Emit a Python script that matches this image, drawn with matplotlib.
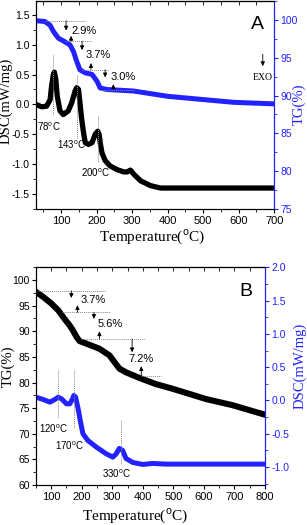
import numpy as np
import matplotlib
matplotlib.use("Agg")
import matplotlib.pyplot as plt
from matplotlib.ticker import MultipleLocator

plt.rcParams['font.family'] = ['Liberation Sans', 'DejaVu Sans']
plt.rcParams['mathtext.fontset'] = 'custom'
plt.rcParams['mathtext.rm'] = 'Liberation Sans'
plt.rcParams['axes.unicode_minus'] = False

BLUE = '#2222ff'

# --- panel A: DSC (left, black) and TG (right, blue)
a_dsc_T = [29, 45, 59, 69, 73, 78, 81, 85, 89, 97, 106, 120, 130, 139, 144, 149, 153, 158, 163,
           168, 177, 187, 196, 203, 207, 210, 215, 224, 238, 257, 276, 286, 295, 305, 324, 352,
           380, 399, 700]
a_dsc = [0.0, -0.04, -0.03, 0.08, 0.30, 0.50, 0.54, 0.42, 0.14, -0.11, -0.17, -0.11, 0.03, 0.22,
         0.28, 0.25, 0.03, -0.25, -0.47, -0.64, -0.67, -0.64, -0.50, -0.45, -0.50, -0.64, -0.81,
         -0.94, -1.03, -1.09, -1.13, -1.13, -1.10, -1.17, -1.28, -1.36, -1.40, -1.40, -1.40]
a_tg_T = [29, 54, 69, 78, 92, 111, 125, 135, 144, 153, 168, 187, 201, 210, 229, 304, 400, 493, 587, 700]
a_tg = [99.9, 99.8, 99.3, 98.5, 97.6, 97.1, 96.7, 95.8, 94.5, 93.4, 93.0, 92.8, 91.9, 91.0, 90.8,
        90.6, 89.9, 89.5, 89.1, 88.9]
a_steps = ['2.9%', '3.7%', '3.0%']
a_peaks = ['78$^\\mathrm{o}$C', '143$^\\mathrm{o}$C', '200$^\\mathrm{o}$C']

# --- panel B: TG (left, black) and DSC (right, blue)
b_tg_T = [50, 74, 101, 123, 144, 161, 171, 183, 193, 215, 258, 291, 307, 324, 345, 389, 443, 497,
          552, 606, 693, 796]
b_tg = [97.7, 96.7, 95.4, 94.1, 92.4, 91.1, 90.2, 88.9, 88.1, 87.6, 86.6, 85.3, 84.0, 82.7, 82.0,
        80.9, 79.7, 78.8, 77.8, 76.8, 75.6, 73.8]
b_dsc_T = [50, 74, 96, 112, 123, 134, 150, 161, 170, 174, 180, 188, 196, 204, 220, 248, 280, 302,
           313, 323, 334, 345, 367, 400, 432, 476, 796]
b_dsc = [0.05, 0.015, -0.025, 0.015, 0.05, 0.025, -0.05, -0.05, 0.025, 0.075, 0.05, -0.12, -0.32,
         -0.50, -0.60, -0.70, -0.80, -0.85, -0.80, -0.72, -0.75, -0.87, -0.93, -0.96, -0.945,
         -0.955, -0.955]
b_steps = ['3.7%', '5.6%', '7.2%']
b_peaks = ['120$^\\mathrm{o}$C', '170$^\\mathrm{o}$C', '330$^\\mathrm{o}$C']

serif = ['Liberation Serif', 'DejaVu Serif']
dot = dict(color='#888888', lw=0.7, ls=(0, (1, 1)))
arr = dict(arrowstyle='-|>,head_length=0.25,head_width=0.12', color='black', lw=0.6,
           shrinkA=0, shrinkB=0)
xlab = 'Temperature($^\\mathrm{o}$C)'


def style_axes(ax, axr, rightcol):
    ax.xaxis.set_major_locator(MultipleLocator(100))
    ax.xaxis.set_minor_locator(MultipleLocator(50))
    ax.tick_params(axis='x', which='both', direction='out', top=False, labelsize=8, pad=2)
    ax.tick_params(axis='x', which='major', length=3)
    ax.tick_params(axis='x', which='minor', length=2)
    ax.tick_params(axis='y', which='both', direction='out', labelsize=7.5, length=3, pad=1.5)
    ax.tick_params(axis='y', which='minor', length=2)
    axr.tick_params(axis='y', which='both', direction='out', labelsize=7.5, length=3, pad=1.5,
                    colors=rightcol)
    axr.tick_params(axis='y', which='minor', length=2)
    axr.spines['right'].set_color(rightcol)
    # top ticks pointing inward
    sec = ax.secondary_xaxis('top')
    sec.xaxis.set_major_locator(MultipleLocator(50))
    sec.tick_params(direction='in', length=3, labeltop=False, width=0.6)


def arrow(ax, x, y0, y1):
    ax.annotate('', xy=(x, y1), xytext=(x, y0), arrowprops=arr)


fig = plt.figure(figsize=(3.07, 5.25), dpi=100)

# ---------------- panel A
ax = fig.add_axes([0.117, 0.602, 0.776, 0.396])
axr = ax.twinx()
ax.plot(a_dsc_T, a_dsc, color='black', lw=3.8, solid_joinstyle='round')
axr.plot(a_tg_T, a_tg, color=BLUE, lw=3.6, solid_joinstyle='round')
ax.set_xlim(29, 700)
ax.set_ylim(-1.75, 1.73)
axr.set_ylim(75, 102.5)
ax.yaxis.set_major_locator(MultipleLocator(0.5))
ax.yaxis.set_minor_locator(MultipleLocator(0.25))
axr.yaxis.set_major_locator(MultipleLocator(5))
axr.yaxis.set_minor_locator(MultipleLocator(2.5))
style_axes(ax, axr, BLUE)
fig.text(0.495, 0.547, xlab, family=serif, fontsize=11, ha='center', va='center')
fig.text(0.02, 0.808, 'DSC(mW/mg)', family=serif, fontsize=10.5, rotation=90,
         ha='center', va='center')
fig.text(0.975, 0.802, 'TG(%)', family=serif, fontsize=10.5, rotation=90, color=BLUE,
         ha='center', va='center')

# TG steps
axr.plot([54, 168], [99.9, 99.9], **dot)
axr.plot([112, 187], [97.2, 97.2], **dot)
axr.plot([159, 233], [93.4, 93.4], **dot)
axr.plot([210, 309], [90.8, 90.8], **dot)
arrow(axr, 114, 99.9, 98.6)
arrow(axr, 128, 97.2, 97.9)
arrow(axr, 159, 97.2, 96.0)
arrow(axr, 184, 93.4, 94.3)
arrow(axr, 224, 93.4, 92.4)
arrow(axr, 247, 90.8, 91.5)
axr.text(129, 98.6, a_steps[0], fontsize=8, va='center')
axr.text(168, 95.3, a_steps[1], fontsize=8, va='center')
axr.text(238, 92.4, a_steps[2], fontsize=8, va='center')

# DSC peaks
ax.plot([78, 78], [0.83, -0.17], **dot)
ax.plot([144, 144], [0.5, -0.58], **dot)
ax.plot([203, 203], [-0.2, -0.97], **dot)
ax.text(66, -0.37, a_peaks[0], fontsize=7, ha='center', va='center')
ax.text(130, -0.68, a_peaks[1], fontsize=7, ha='center', va='center')
ax.text(198, -1.15, a_peaks[2], fontsize=7, ha='center', va='center')
ax.text(654, 1.33, 'A', fontsize=14, ha='center', va='center')
ax.text(668, 0.45, 'EXO', family=serif, fontsize=7, ha='center', va='center')
arrow(ax, 668, 0.84, 0.64)

# ---------------- panel B
bx = fig.add_axes([0.117, 0.076, 0.746, 0.415])
bxr = bx.twinx()
bx.plot(b_tg_T, b_tg, color='black', lw=4.4, solid_joinstyle='round')
bxr.plot(b_dsc_T, b_dsc, color=BLUE, lw=3.6, solid_joinstyle='round')
bx.set_xlim(50, 800)
bx.set_ylim(60, 102.5)
bxr.set_ylim(-1.27, 2.0)
bx.yaxis.set_major_locator(MultipleLocator(5))
bx.yaxis.set_minor_locator(MultipleLocator(2.5))
bxr.yaxis.set_major_locator(MultipleLocator(0.5))
bxr.yaxis.set_minor_locator(MultipleLocator(0.25))
style_axes(bx, bxr, BLUE)
bxr.set_yticks([-1.0, -0.5, 0.0, 0.5, 1.0, 1.5, 2.0])
fig.text(0.44, 0.016, xlab, family=serif, fontsize=11, ha='center', va='center')
fig.text(0.026, 0.303, 'TG(%)', family=serif, fontsize=10.5, rotation=90,
         ha='center', va='center')
fig.text(0.976, 0.303, 'DSC(mW/mg)', family=serif, fontsize=10.5, rotation=90, color=BLUE,
         ha='center', va='center')

bx.plot([50, 278], [97.9, 97.9], **dot)
bx.plot([134, 291], [93.7, 93.7], **dot)
bx.plot([199, 407], [88.5, 88.5], **dot)
bx.plot([395, 460], [81.25, 81.25], **dot)
arrow(bx, 166, 97.9, 96.5)
arrow(bx, 186, 93.7, 95.1)
arrow(bx, 240, 93.7, 92.4)
arrow(bx, 258, 88.5, 90.0)
arrow(bx, 365, 88.5, 85.9)
arrow(bx, 395, 81.25, 83.2)
bx.text(236, 96.1, b_steps[0], fontsize=8, ha='center', va='center')
bx.text(294, 91.5, b_steps[1], fontsize=8, ha='center', va='center')
bx.text(394, 84.6, b_steps[2], fontsize=8, ha='center', va='center')

bxr.plot([123, 123], [0.46, -0.27], **dot)
bxr.plot([174, 174], [0.46, -0.42], **dot)
bxr.plot([329, 329], [-0.3, -0.95], **dot)
bxr.text(108, -0.43, b_peaks[0], fontsize=7, ha='center', va='center')
bxr.text(160, -0.68, b_peaks[1], fontsize=7, ha='center', va='center')
bxr.text(315, -1.1, b_peaks[2], fontsize=7, ha='center', va='center')
bx.text(737, 97.7, 'B', fontsize=14, ha='center', va='center')

fig.savefig('out.png', dpi=100)
